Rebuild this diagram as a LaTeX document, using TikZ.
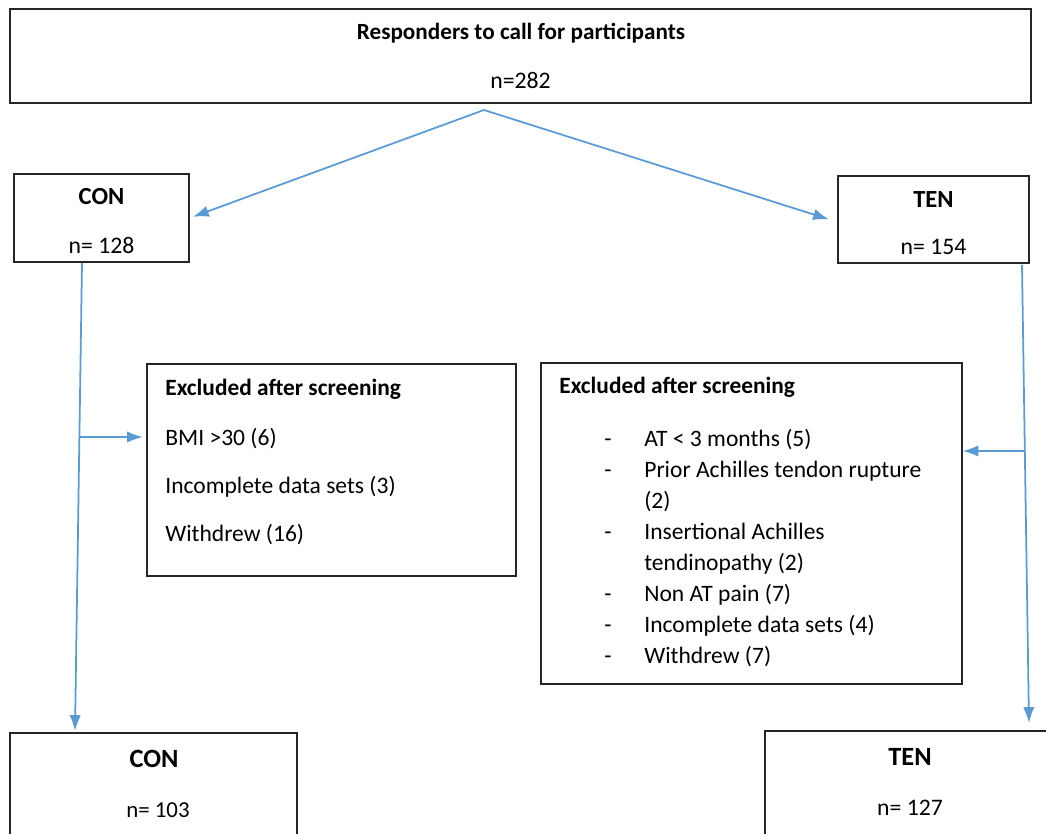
\documentclass[tikz,border=0pt]{standalone}
\usepackage{fontspec}
\setmainfont{Carlito}
\usetikzlibrary{arrows.meta, positioning}
\definecolor{flowblue}{HTML}{5B9BD5}

\begin{document}
\begin{tikzpicture}[x=0.02cm, y=-0.02cm,
        every edge/.style={draw=flowblue, line width=1pt, -{Latex[length=9pt,width=6.5pt]}},
        box/.style={draw=black!85, line width=0.8pt, inner sep=0pt},
        toptitle/.style={inner sep=0pt, font=\bfseries\fontsize{13.2}{15}\selectfont},
        bighead/.style={inner sep=0pt, font=\bfseries\fontsize{14}{16}\selectfont},
        bigcount/.style={inner sep=0pt, font=\fontsize{13.5}{15}\selectfont},
        exhead/.style={inner sep=0pt, anchor=west, font=\bfseries\fontsize{13.3}{15}\selectfont},
        exlist/.style={inner sep=0pt, anchor=north west, align=left},]

        \path[use as bounding box, clip] (0,0) rectangle (1046,834);

        % boxes
        \node[box, minimum width=20.42cm, minimum height=1.88cm] (top) at (520.5,56) {};
        \node[box, minimum width=3.5cm, minimum height=1.76cm] (con1) at (101.5,218) {};
        \node[box, minimum width=3.82cm, minimum height=1.74cm] (ten1) at (933.5,219.5) {};
        \node[box, minimum width=7.38cm, minimum height=4.24cm] (excl1) at (331.5,470) {};
        \node[box, minimum width=8.42cm, minimum height=6.42cm] (excl2) at (751.5,523.5) {};
        \node[box, minimum width=5.74cm, minimum height=2.94cm] (con2) at (153.5,806.5) {};
        \node[box, minimum width=5.7cm, minimum height=2.98cm] (ten2) at (907.5,805.5) {};

        % texts
        \node[toptitle] (top_t) at (521,33) {Responders to call for participants};
        \node[bigcount] (top_n) at (520.5,80) {n=282};

        \node[bighead] (con1_t) at (101.5,197) {CON};
        \node[bigcount] (con1_n) at (101.5,245) {n= 128};
        \node[bighead] (ten1_t) at (933.5,200) {TEN};
        \node[bigcount] (ten1_n) at (933.5,247) {n= 154};

        \node[exhead] (excl1_t) at (165,389) {Excluded after screening};
        \node[exlist, font=\fontsize{13.4}{27.2}\selectfont] (excl1_l) at (165,428)
            {BMI >30 (6)\\Incomplete data sets (3)\\Withdrew (16)};

        \node[exhead] (excl2_t) at (559,387) {Excluded after screening};
        \node[exlist, font=\fontsize{13.4}{17.6}\selectfont] (excl2_l) at (604,429)
            {\makebox[0.8cm][l]{-}AT < 3 months (5)\\
             \makebox[0.8cm][l]{-}Prior Achilles tendon rupture\\
             \hspace*{0.8cm}(2)\\
             \makebox[0.8cm][l]{-}Insertional Achilles\\
             \hspace*{0.8cm}tendinopathy (2)\\
             \makebox[0.8cm][l]{-}Non AT pain (7)\\
             \makebox[0.8cm][l]{-}Incomplete data sets (4)\\
             \makebox[0.8cm][l]{-}Withdrew (7)};

        \node[bighead, font=\bfseries\fontsize{15}{17}\selectfont] (con2_t) at (154,759) {CON};
        \node[bigcount, font=\fontsize{13}{15}\selectfont] (con2_n) at (158,810) {n= 103};
        \node[bighead, font=\bfseries\fontsize{15}{17}\selectfont] (ten2_t) at (910,757) {TEN};
        \node[bigcount, font=\fontsize{13.5}{15}\selectfont] (ten2_n) at (910,808) {n= 127};

        % connectors
        \coordinate (fork) at (484,110);
        \coordinate (con_out) at (82,263);
        \coordinate (con_in) at (75,731);
        \coordinate (con_side) at (79.4,437);
        \coordinate (ten_out) at (1022,265);
        \coordinate (ten_in) at (1029,723);
        \coordinate (ten_side) at (1024.8,451);

        \path (fork) edge [shorten >=2pt] (con1.east);
        \path (fork) edge [shorten >=5pt] ([yshift=-0.05cm]ten1.west);
        \path (con_out) edge (con_in);
        \path (con_side) edge [shorten >=2pt] (con_side -| excl1.west);
        \path (ten_out) edge (ten_in);
        \path (ten_side) edge (ten_side -| excl2.east);

\end{tikzpicture}
\end{document}
